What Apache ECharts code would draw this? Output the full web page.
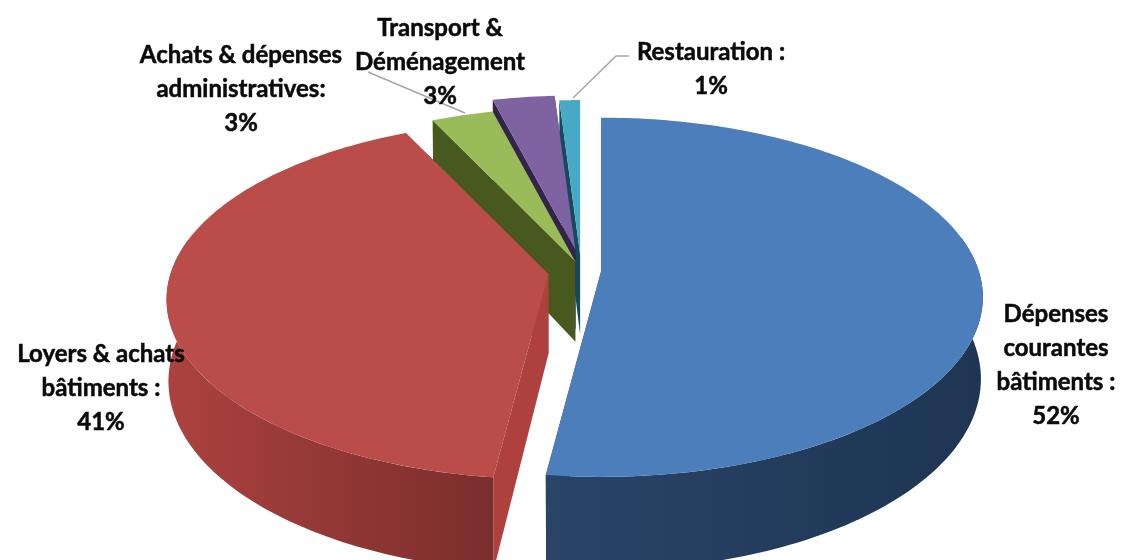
<!DOCTYPE html>
<html lang="fr">
<head>
<meta charset="utf-8">
<title>Répartition des dépenses</title>
<style>html,body{margin:0;padding:0;background:#fff}#chart{width:1121px;height:560px}</style>
<script src="https://cdn.jsdelivr.net/npm/echarts@6/dist/echarts.min.js"></script>
</head>
<body>
<div id="chart"></div>
<script>
// Postes de dépenses, en pourcentage du total
const categories = ['Dépenses\ncourantes\nbâtiments :', 'Loyers & achats\nbâtiments :', 'Achats & dépenses\nadministratives:', 'Transport &\nDéménagement', 'Restauration :'];
const shares = [52, 41, 3, 3, 1];

// Geometry of the tilted disc
const DISC = { cx: 581, cy: 271, rx: 378, ry: 176, persp: 0.142, depth: 80, taper: 0.005, flat: 0.6 };
const explode = [20, 33, 17, 36, 28];
const drawRank = [3, 4, 2, 1, 0];

const palette = [
  { top: '#4C7EBB', cut: '#2A4569', wall: ['#1E3553', '#2A4468'] },
  { top: '#BA4C49', cut: '#AE403E', wall: ['#AC423F', '#7A2E2C'] },
  { top: '#9ABB59', cut: '#47591F', wall: ['#47591F', '#47591F'] },
  { top: '#7F62A1', cut: '#33254A', wall: ['#33254A', '#33254A'] },
  { top: '#48A9C5', cut: '#134A5E', wall: ['#134A5E', '#134A5E'] }
];

const labelLayout = [
  { x: 1056, y: 365, size: 24 },
  { x: 101, y: 388, size: 24 },
  { x: 241, y: 89, size: 24 },
  { x: 440, y: 62, size: 24 },
  { x: 711, y: 69, size: 24 }
];
const leaders = {
  2: { from: [368, 72], to: [465, 113] },
  4: { from: [629, 56], mid: [616, 56], to: [573, 98] }
};

const TAU = Math.PI * 2;
const total = shares.reduce((a, b) => a + b, 0);

function project(ax, ay, theta, r, z) {
  const c = Math.cos(theta) * r;
  const s = 1 / (1 + DISC.persp * c);
  const shrink = 1 - DISC.taper * z;
  return [
    ax + DISC.rx * r * Math.sin(theta) * s * shrink,
    ay - DISC.ry * c * s + DISC.depth * z * s
  ];
}

function arcPoints(ax, ay, a0, a1, z) {
  const pts = [];
  const steps = Math.max(2, Math.ceil((a1 - a0) / 0.02));
  for (let i = 0; i <= steps; i++) {
    pts.push(project(ax, ay, a0 + (a1 - a0) * i / steps, 1, z));
  }
  return pts;
}

function renderSlice(params, api) {
  const i = params.dataIndex;
  const before = shares.slice(0, i).reduce((a, b) => a + b, 0);
  const a0 = before / total * TAU;
  const a1 = (before + api.value(0)) / total * TAU;
  const mid = (a0 + a1) / 2;
  const ax = DISC.cx + explode[i] * Math.sin(mid);
  const ay = DISC.cy - explode[i] * Math.cos(mid) * DISC.flat;
  const col = palette[i];
  const rank = drawRank[i] * 10;
  const children = [];

  const quad = (theta, z2) => ({
    type: 'polygon', z2,
    shape: { points: [[ax, ay], project(ax, ay, theta, 1, 0), project(ax, ay, theta, 1, 1), [ax, ay + DISC.depth]] },
    style: { fill: col.cut }
  });
  children.push(quad(a0, rank), quad(a1, rank));

  // Outer wall: only the part of the rim turned towards the viewer
  const w0 = Math.max(a0, Math.PI / 2 - 0.2);
  const w1 = Math.min(a1, 3 * Math.PI / 2 + 0.2);
  if (w1 > w0) {
    const upper = arcPoints(ax, ay, w0, w1, 0);
    const lower = arcPoints(ax, ay, w0, w1, 1).reverse();
    children.push({
      type: 'polygon', z2: rank + 1,
      shape: { points: upper.concat(lower) },
      style: {
        fill: new echarts.graphic.LinearGradient(0, 0, 1, 0, [
          { offset: 0, color: i === 0 ? col.wall[1] : col.wall[0] },
          { offset: 1, color: i === 0 ? col.wall[0] : col.wall[1] }
        ])
      }
    });
  }

  children.push({
    type: 'polygon', z2: rank + 2,
    shape: { points: [[ax, ay]].concat(arcPoints(ax, ay, a0, a1, 0)) },
    style: { fill: col.top }
  });

  const leader = leaders[i];
  if (leader) {
    children.push({
      type: 'polyline', z2: 90,
      shape: { points: leader.mid ? [leader.from, leader.mid, leader.to] : [leader.from, leader.to] },
      style: { fill: null, stroke: '#A6A6A6', lineWidth: 1.5 }
    });
  }

  const lab = labelLayout[i];
  children.push({
    type: 'text', z2: 100,
    style: {
      x: lab.x, y: lab.y,
      text: categories[i] + '\n' + api.value(0) + '%',
      fill: '#0A0A0A',
      stroke: '#0A0A0A',
      lineWidth: 0.5,
      font: 'bold ' + lab.size + 'px Lato, "Open Sans", sans-serif',
      lineHeight: 34,
      align: 'center',
      verticalAlign: 'middle'
    }
  });

  return { type: 'group', children };
}

const chart = echarts.init(document.getElementById('chart'), null, { renderer: 'canvas' });
chart.setOption({
  animation: false,
  backgroundColor: '#fff',
  series: [{
    type: 'custom',
    coordinateSystem: 'none',
    clip: false,
    silent: true,
    renderItem: renderSlice,
    data: shares.map(v => [v])
  }]
});
</script>
</body>
</html>
